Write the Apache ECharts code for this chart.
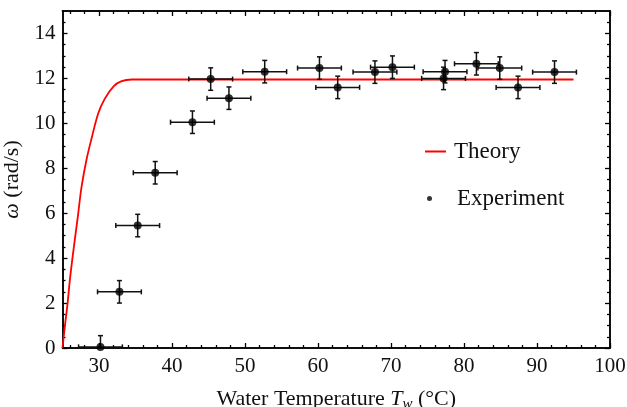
<!DOCTYPE html>
<html><head><meta charset="utf-8">
<script src="https://cdn.jsdelivr.net/npm/echarts@6/dist/echarts.min.js"></script>
<style>html,body{margin:0;padding:0;background:#fff}#c{width:627px;height:407px}</style>
</head><body><div id="c"></div>
<script>
// Experiment points
const expX    = [30.2, 32.8, 35.3, 37.7, 42.8, 45.3, 47.8, 52.7, 60.2, 62.7, 67.8, 70.2, 77.4, 77.2, 81.7, 84.9, 87.4, 92.4];
const expY    = [0.05, 2.5, 5.45, 7.8, 10.05, 11.97, 11.12, 12.3, 12.46, 11.6, 12.28, 12.5, 12.3, 12.0, 12.65, 12.46, 11.6, 12.28];
const expXErr = [3, 3, 3, 3, 3, 3, 3, 3, 3, 3, 3, 3, 3, 3, 3, 3, 3, 3];
const expYErr = [0.5, 0.5, 0.5, 0.5, 0.5, 0.5, 0.5, 0.5, 0.5, 0.5, 0.5, 0.5, 0.5, 0.5, 0.5, 0.5, 0.5, 0.5];
// Theory curve
const theoryX = [25, 25.3, 25.7, 26.0, 26.5, 27.1, 27.6, 28.3, 29.0, 29.9, 30.8, 32.0, 33.1, 34.5, 36.0, 40, 50, 60, 70, 80, 95];
const theoryY = [0, 0.9, 2.0, 3.0, 4.35, 5.85, 7.15, 8.4, 9.35, 10.45, 11.1, 11.65, 11.88, 11.95, 11.95, 11.95, 11.95, 11.95, 11.95, 11.95, 11.95];
// Ticks
const xMajorTicks = [30, 40, 50, 60, 70, 80, 90, 100];
const xMinorTicks = [26, 28, 32, 34, 36, 38, 42, 44, 46, 48, 52, 54, 56, 58, 62, 64, 66, 68, 72, 74, 76, 78, 82, 84, 86, 88, 92, 94, 96, 98];
const yMajorTicks = [0, 2, 4, 6, 8, 10, 12, 14];
const yMinorTicks = [0.5, 1, 1.5, 2.5, 3, 3.5, 4.5, 5, 5.5, 6.5, 7, 7.5, 8.5, 9, 9.5, 10.5, 11, 11.5, 12.5, 13, 13.5, 14.5];

const FONT = 'Liberation Serif';
const TXT = '#111';

function xAxisDef(pos, ticks, len, labels, extra) {
  return Object.assign({
    type: 'value', position: pos, min: 25, max: 100,
    axisLine: { show: true, onZero: false, lineStyle: { color: '#000', width: 1.5 } },
    axisTick: { show: true, inside: true, length: len, customValues: ticks, lineStyle: { color: '#000', width: 1.3 } },
    axisLabel: labels ? { show: true, customValues: ticks, fontFamily: FONT, fontSize: 21, color: TXT, margin: 8 } : { show: false },
    splitLine: { show: false }
  }, extra || {});
}
function yAxisDef(pos, ticks, len, labels, extra) {
  return Object.assign({
    type: 'value', position: pos, min: 0, max: 15,
    axisLine: { show: true, onZero: false, lineStyle: { color: '#000', width: 1.5 } },
    axisTick: { show: true, inside: true, length: len, customValues: ticks, lineStyle: { color: '#000', width: 1.3 } },
    axisLabel: labels ? { show: true, customValues: ticks, fontFamily: FONT, fontSize: 21, color: TXT, margin: 7 } : { show: false },
    splitLine: { show: false }
  }, extra || {});
}

const chart = echarts.init(document.getElementById('c'), null, { renderer: 'canvas' });
chart.setOption({
  animation: false,
  backgroundColor: '#fff',
  textStyle: { fontFamily: FONT },
  grid: { left: 62.5, right: 17, top: 11, bottom: 59, containLabel: false, outerBoundsMode: 'none' },
  xAxis: [
    xAxisDef('bottom', xMajorTicks, 5, true, {
      name: '{a|Water Temperature }{i|T}{s|w}{a| (°C)}',
      nameLocation: 'middle', nameGap: 38,
      nameTextStyle: {
        rich: {
          a: { fontFamily: FONT, fontSize: 22, color: TXT, lineHeight: 26 },
          i: { fontFamily: FONT, fontSize: 22, fontStyle: 'italic', color: TXT, lineHeight: 26 },
          s: { fontFamily: FONT, fontSize: 15, fontStyle: 'italic', color: TXT, verticalAlign: 'bottom', lineHeight: 13 }
        }
      }
    }),
    xAxisDef('bottom', xMinorTicks, 3, false),
    xAxisDef('top', xMajorTicks, 5, false),
    xAxisDef('top', xMinorTicks, 3, false)
  ],
  yAxis: [
    yAxisDef('left', yMajorTicks, 5, true, {
      name: '{i|ω} (rad/s)',
      nameLocation: 'middle', nameGap: 36, nameRotate: 90,
      nameTextStyle: {
        fontFamily: FONT, fontSize: 22, color: TXT,
        rich: { i: { fontFamily: FONT, fontSize: 22, fontStyle: 'italic', color: TXT } }
      }
    }),
    yAxisDef('left', yMinorTicks, 3, false),
    yAxisDef('right', yMajorTicks, 5, false),
    yAxisDef('right', yMinorTicks, 3, false)
  ],
  legend: [
    {
      data: [{ name: 'Theory', icon: 'rect' }], orient: 'vertical', left: 420, top: 135,
      itemWidth: 21, itemHeight: 2,
      textStyle: { fontFamily: FONT, fontSize: 23, color: TXT, padding: [0, 0, 0, 3] },
      selectedMode: false
    },
    {
      data: [{ name: 'Experiment', icon: 'circle' }], orient: 'vertical', left: 422, top: 182,
      itemWidth: 5, itemHeight: 5,
      textStyle: { fontFamily: FONT, fontSize: 23, color: TXT, padding: [0, 0, 0, 20] },
      selectedMode: false
    }
  ],
  series: [
    {
      name: 'Theory', type: 'line', xAxisIndex: 0, yAxisIndex: 0,
      data: theoryX.map((x, i) => [x, theoryY[i]]),
      showSymbol: false, symbol: 'none', smooth: 0.35,
      lineStyle: { color: '#ff0000', width: 1.8 }, itemStyle: { color: '#ff0000' },
      z: 2
    },
    {
      name: 'ErrorBars', type: 'custom', xAxisIndex: 0, yAxisIndex: 0, clip: true,
      data: expX.map((x, i) => [x, expY[i], expXErr[i], expYErr[i]]),
      renderItem: function (params, api) {
        const x = api.value(0), y = api.value(1), dx = api.value(2), dy = api.value(3);
        const l = api.coord([x - dx, y]), r = api.coord([x + dx, y]);
        const t = api.coord([x, y + dy]), b = api.coord([x, y - dy]);
        const cap = 2.5;
        const st = { stroke: '#111', lineWidth: 1.5 };
        return {
          type: 'group', children: [
            { type: 'line', shape: { x1: l[0], y1: l[1], x2: r[0], y2: r[1] }, style: st },
            { type: 'line', shape: { x1: l[0], y1: l[1] - cap, x2: l[0], y2: l[1] + cap }, style: st },
            { type: 'line', shape: { x1: r[0], y1: r[1] - cap, x2: r[0], y2: r[1] + cap }, style: st },
            { type: 'line', shape: { x1: t[0], y1: t[1], x2: b[0], y2: b[1] }, style: st },
            { type: 'line', shape: { x1: t[0] - cap, y1: t[1], x2: t[0] + cap, y2: t[1] }, style: st },
            { type: 'line', shape: { x1: b[0] - cap, y1: b[1], x2: b[0] + cap, y2: b[1] }, style: st }
          ]
        };
      },
      z: 3
    },
    {
      name: 'Experiment', type: 'scatter', xAxisIndex: 0, yAxisIndex: 0, clip: true,
      data: expX.map((x, i) => [x, expY[i]]),
      symbol: 'circle', symbolSize: 8,
      itemStyle: { color: '#000' },
      z: 4
    }
  ]
});
</script>
</body></html>
